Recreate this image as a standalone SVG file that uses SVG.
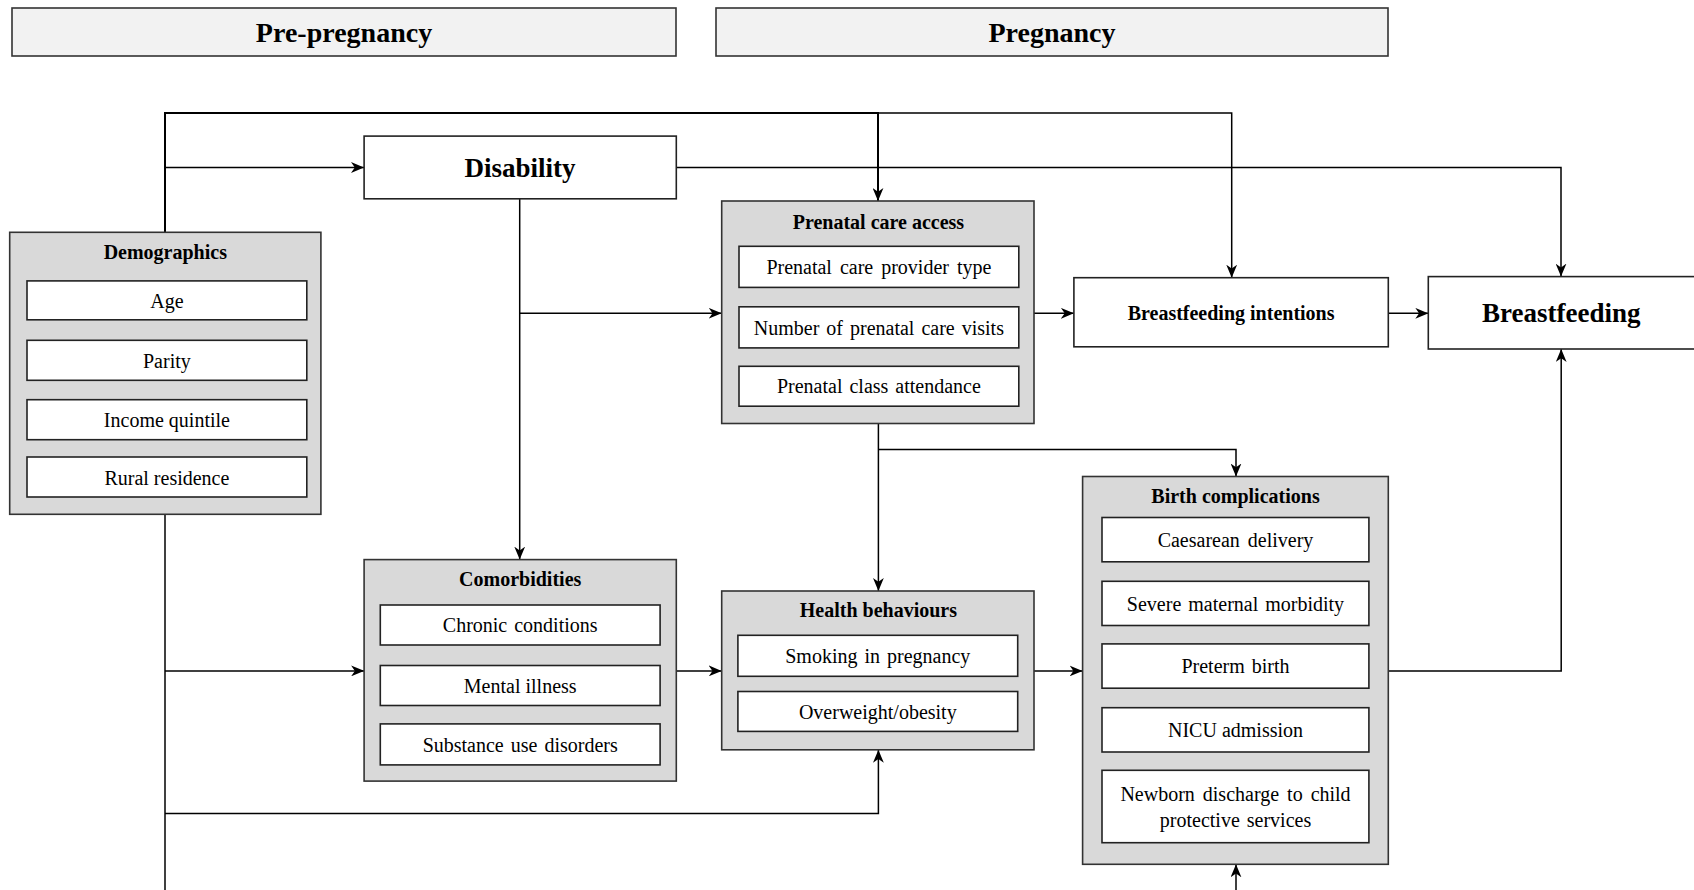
<svg xmlns="http://www.w3.org/2000/svg" width="1694" height="890" viewBox="0 0 1694 890">
<defs>
<marker id="arr" viewBox="0 0 12 10" refX="12" refY="5" markerWidth="13" markerHeight="11" markerUnits="userSpaceOnUse" orient="auto">
<path d="M0,0 L12,5 L0,10 L3.5,5 z" fill="#000"/>
</marker>
</defs>
<style>
.hdr{fill:#f2f2f2;stroke:#333;stroke-width:1.6}
.grp{fill:#d9d9d9;stroke:#333;stroke-width:1.6}
.box{fill:#fff;stroke:#222;stroke-width:1.6}
.t{font-family:"Liberation Serif","Times New Roman",serif;font-size:20px;fill:#000;text-anchor:middle}
.b{font-weight:bold}
.big{font-size:27px;font-weight:bold}
.c{fill:none;stroke:#000;stroke-width:1.5}
.a{marker-end:url(#arr)}
</style>
<rect width="1694" height="890" fill="#fff"/>

<g id="hdr-pre"><rect class="hdr" x="12" y="8" width="664" height="48"/><text class="t big" x="344" y="41.5" style="font-size:28px">Pre-pregnancy</text></g>
<g id="hdr-preg"><rect class="hdr" x="716" y="8" width="672" height="48"/><text class="t big" x="1052" y="41.5" style="font-size:28px">Pregnancy</text></g>

<g id="connectors">
<path class="c a" d="M165,232 V113 H878 V201" style="stroke-width:2"/>
<path class="c a" d="M878,113 H1231.7 V277.7"/>
<path class="c a" d="M165,167.5 H364"/>
<path class="c a" d="M676,167.5 H1561 V276.6"/>
<path class="c a" d="M519.7,199 V559.6"/>
<path class="c a" d="M519.7,313.3 H721.7"/>
<path class="c a" d="M1034,313.3 H1073.9"/>
<path class="c a" d="M1388.3,313.3 H1428.3"/>
<path class="c a" d="M878.4,423.5 V591"/>
<path class="c a" d="M878.4,449.4 H1236 V476.5"/>
<path class="c" d="M165,514.3 V890"/>
<path class="c a" d="M165,670.9 H364.1"/>
<path class="c a" d="M165,813.5 H878.4 V749.8"/>
<path class="c a" d="M676.3,670.9 H721.7"/>
<path class="c a" d="M1034,670.9 H1082.6"/>
<path class="c a" d="M1388.3,670.9 H1561.2 V349"/>
<path class="c a" d="M1236,890 V864.3"/>
</g>

<g id="disability"><rect class="box" x="364.1" y="136.1" width="312.2" height="62.7"/><text class="t big" x="520" y="177">Disability</text></g>

<g id="demographics">
<rect class="grp" x="9.7" y="232.3" width="311.2" height="282"/>
<text class="t b" x="165.3" y="258.5">Demographics</text>
<rect class="box" x="27" y="280.9" width="279.8" height="38.9"/><text class="t" x="166.9" y="307.5">Age</text>
<rect class="box" x="27" y="340.3" width="279.8" height="40"/><text class="t" x="166.9" y="367.5">Parity</text>
<rect class="box" x="27" y="399.7" width="279.8" height="40"/><text class="t" x="166.9" y="427">Income quintile</text>
<rect class="box" x="27" y="457" width="279.8" height="40"/><text class="t" x="166.9" y="484.5">Rural residence</text>
</g>

<g id="prenatal">
<rect class="grp" x="721.7" y="201" width="312.3" height="222.5"/>
<text class="t b" x="878.4" y="228.5">Prenatal care access</text>
<rect class="box" x="739" y="246.3" width="279.8" height="41.1"/><text class="t" x="878.9" y="274" word-spacing="3">Prenatal care provider type</text>
<rect class="box" x="739" y="306.8" width="279.8" height="41.1"/><text class="t" x="878.9" y="334.5" word-spacing="2">Number of prenatal care visits</text>
<rect class="box" x="739" y="366.3" width="279.8" height="39.9"/><text class="t" x="878.9" y="393" word-spacing="2">Prenatal class attendance</text>
</g>

<g id="bf-intentions"><rect class="box" x="1073.9" y="277.7" width="314.4" height="69.1"/><text class="t b" x="1231.1" y="319.5">Breastfeeding intentions</text></g>

<g id="breastfeeding"><rect class="box" x="1428.3" y="276.6" width="280" height="72.4"/><text class="t big" x="1561.2" y="322">Breastfeeding</text></g>

<g id="comorbidities">
<rect class="grp" x="364.1" y="559.6" width="312.2" height="221.5"/>
<text class="t b" x="520.2" y="586">Comorbidities</text>
<rect class="box" x="380.3" y="605" width="279.8" height="40"/><text class="t" x="520.2" y="632" word-spacing="2">Chronic conditions</text>
<rect class="box" x="380.3" y="665.5" width="279.8" height="40"/><text class="t" x="520.2" y="692.5">Mental illness</text>
<rect class="box" x="380.3" y="723.9" width="279.8" height="41"/><text class="t" x="520.2" y="751.5" word-spacing="2">Substance use disorders</text>
</g>

<g id="health">
<rect class="grp" x="721.7" y="591" width="312.3" height="158.8"/>
<text class="t b" x="878.4" y="616.5">Health behaviours</text>
<rect class="box" x="737.9" y="635.3" width="279.8" height="41"/><text class="t" x="877.8" y="662.5" word-spacing="2">Smoking in pregnancy</text>
<rect class="box" x="737.9" y="691.5" width="279.8" height="39.9"/><text class="t" x="877.8" y="718.5">Overweight/obesity</text>
</g>

<g id="birth">
<rect class="grp" x="1082.6" y="476.5" width="305.7" height="387.8"/>
<text class="t b" x="1235.5" y="503">Birth complications</text>
<rect class="box" x="1102" y="517.5" width="266.9" height="44.3"/><text class="t" x="1235.5" y="546.5" word-spacing="3">Caesarean delivery</text>
<rect class="box" x="1102" y="581.3" width="266.9" height="44.2"/><text class="t" x="1235.5" y="610.5" word-spacing="2">Severe maternal morbidity</text>
<rect class="box" x="1102" y="643.9" width="266.9" height="44.3"/><text class="t" x="1235.5" y="673" word-spacing="2">Preterm birth</text>
<rect class="box" x="1102" y="707.7" width="266.9" height="44.3"/><text class="t" x="1235.5" y="737">NICU admission</text>
<rect class="box" x="1102" y="770.3" width="266.9" height="72.4"/>
<text class="t" x="1235.5" y="801" word-spacing="3">Newborn discharge to child</text>
<text class="t" x="1235.5" y="827" word-spacing="2">protective services</text>
</g>
</svg>
